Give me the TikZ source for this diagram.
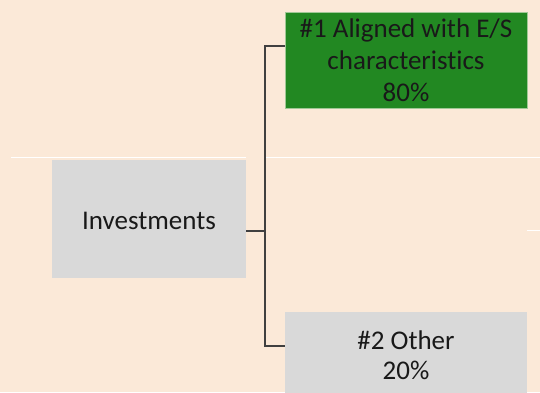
\documentclass[tikz,border=0pt]{standalone}
\usepackage{fontspec}
\setmainfont{Carlito}[Ligatures=NoCommon]
\usepackage{tikz}
\usetikzlibrary{arrows.meta}
\definecolor{peach}{RGB}{251,233,216}
\definecolor{boxgrey}{RGB}{217,217,217}
\definecolor{esgreen}{RGB}{34,136,34}
\definecolor{linkgrey}{RGB}{64,64,64}

\begin{document}
\begin{tikzpicture}[x=1pt,y=-1pt,
        box/.style={inner sep=0pt, align=center, text=black!90,
          font=\fontsize{27}{32}\selectfont},
        greybox/.style={box, fill=boxgrey},
        greenbox/.style={box, fill=esgreen, draw={rgb,255:red,160;green,200;blue,150}, line width=0.6pt},
        link/.style={draw=linkgrey, line width=1.1pt}]
    \useasboundingbox[fill=peach] (0,0) rectangle (540,392);
    \draw[white, line width=1.5pt] (11,157.5) -- (246,157.5);
    \draw[white, line width=1.5pt] (266,157.5) -- (540,157.5);
    \draw[white, line width=1.5pt] (527,230.5) -- (540,230.5);
        \node[greybox, minimum width=194pt, minimum height=118pt, text height=28pt, text depth=6pt] (invest) at (149,218.5) {Investments};
        \node[greenbox, minimum width=242pt, minimum height=96pt] (aligned) at (406,60)
            {\#1 Aligned with E/S\\characteristics\\80\%};
        \node[greybox, minimum width=242pt, minimum height=86pt] (other) at (406,355)
            {\#2 Other\\[-2pt]20\%};
        \coordinate (fork) at (265,231);
    \draw[link] ([yshift=-12.5pt]invest.east) -- (fork);
    \draw[link] ([yshift=14pt]aligned.west) -| (fork) |- ([yshift=9pt]other.west);
    \end{tikzpicture}
\end{document}
